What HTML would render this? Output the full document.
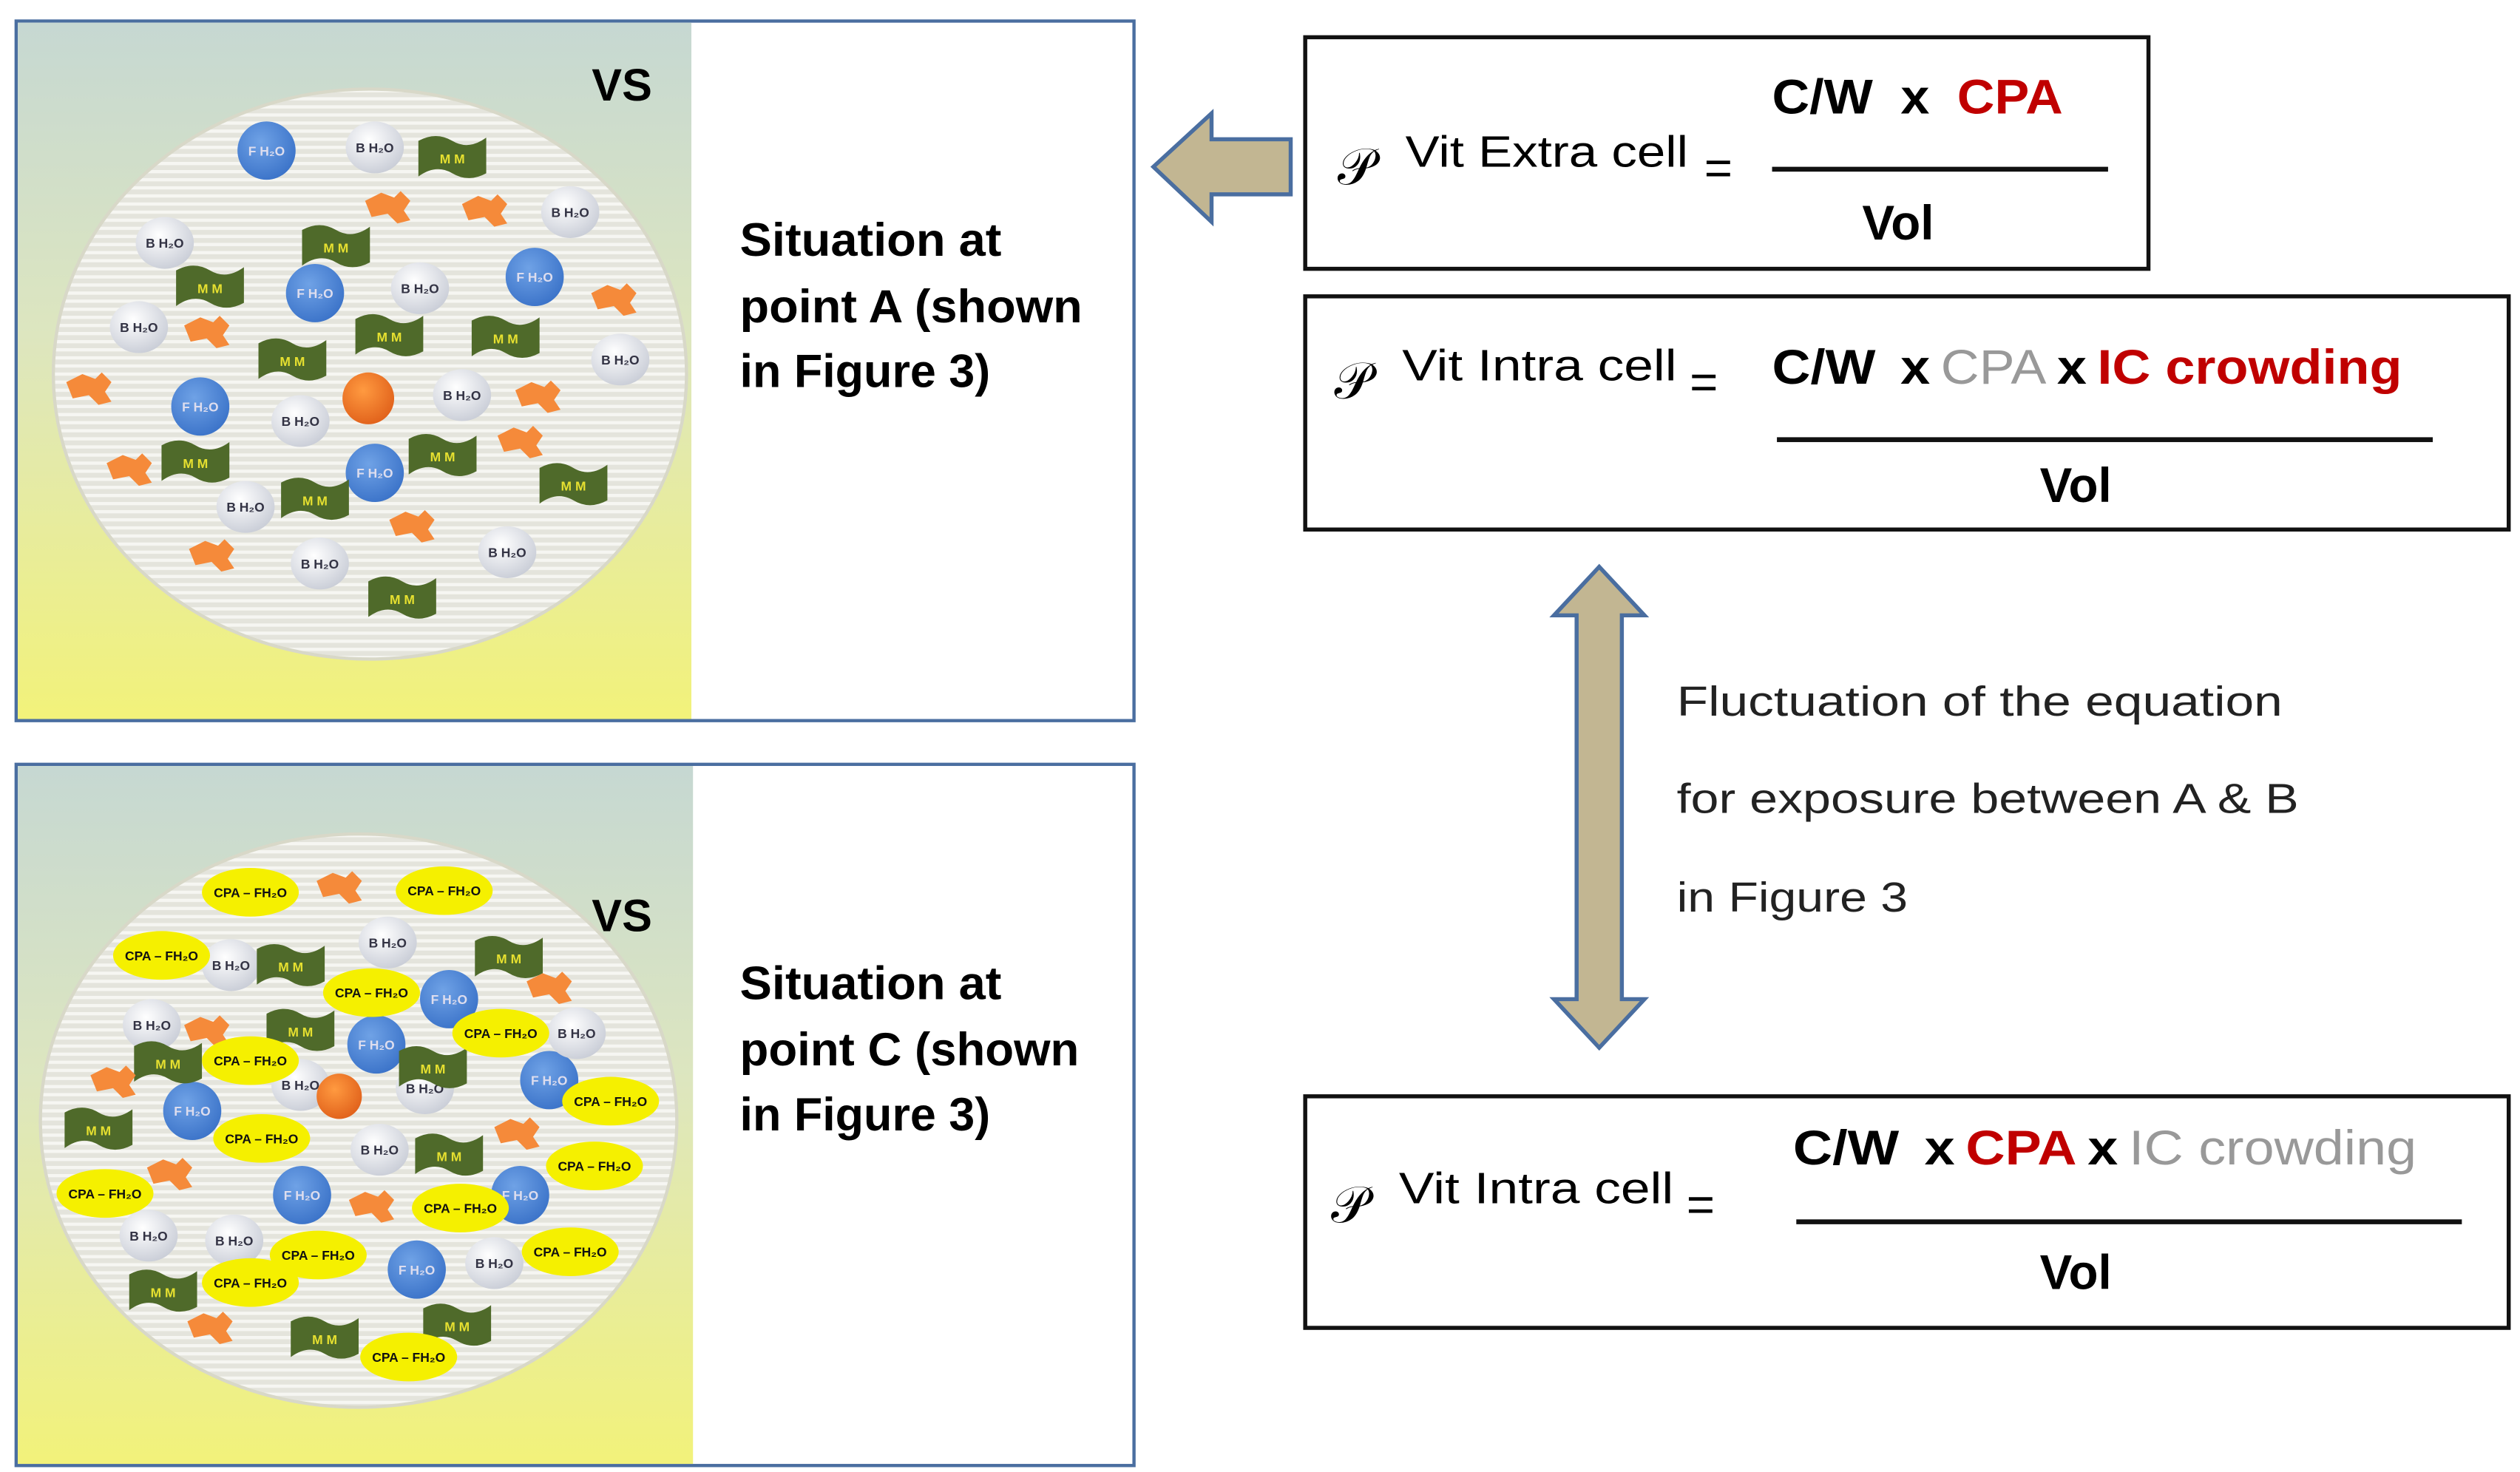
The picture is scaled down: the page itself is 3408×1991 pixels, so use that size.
<!DOCTYPE html>
<html><head><meta charset="utf-8"><style>
html,body{margin:0;padding:0;background:#fff}
svg{display:block}
text{font-family:"Liberation Sans",sans-serif}
.b{font-weight:bold}
</style></head><body>
<svg width="3408" height="1991" viewBox="0 0 1560 909" preserveAspectRatio="none" xmlns="http://www.w3.org/2000/svg">
<defs>
<linearGradient id="bg" x1="0" y1="0" x2="0" y2="1">
<stop offset="0" stop-color="#c6d8d2"/><stop offset="0.45" stop-color="#dde6bf"/><stop offset="1" stop-color="#f2f27a"/>
</linearGradient>
<pattern id="st" width="6" height="5" patternUnits="userSpaceOnUse">
<rect width="6" height="5" fill="#e4e4dc"/><rect width="6" height="2" fill="#f6f6f2"/>
</pattern>
<radialGradient id="bl" cx="0.4" cy="0.35" r="0.7"><stop offset="0" stop-color="#6fa2e6"/><stop offset="1" stop-color="#3a72c8"/></radialGradient>
<radialGradient id="wh" cx="0.4" cy="0.35" r="0.7"><stop offset="0" stop-color="#ffffff"/><stop offset="1" stop-color="#c8ccd6"/></radialGradient>
<radialGradient id="or" cx="0.4" cy="0.35" r="0.7"><stop offset="0" stop-color="#ff9a40"/><stop offset="1" stop-color="#e0601a"/></radialGradient>
<g id="F"><circle r="18" fill="url(#bl)"/></g>
<g id="W"><ellipse rx="18" ry="16" fill="url(#wh)"/></g>
<g id="M"><path d="M-21,-10 Q-10,-16 0,-10 Q10,-4 21,-12 L21,10 Q10,16 0,10 Q-10,4 -21,12 Z" fill="#4f6a2a"/></g>
<g id="O"><path d="M-14,-4 L-4,-9 L4,-6 L8,-10 L14,-4 L10,2 L14,8 L6,10 L0,4 L-10,6 Z" fill="#f58a3a"/></g>
<g id="Y"><ellipse rx="30" ry="15" fill="#f5f000"/></g>
</defs>

<!-- Box A -->
<rect x="10" y="13" width="692" height="432" fill="#fff" stroke="#4a6ea0" stroke-width="2"/>
<rect x="11" y="14" width="417" height="430" fill="url(#bg)"/>
<ellipse cx="229" cy="231" rx="196" ry="176" fill="url(#st)" stroke="#d8d8c8" stroke-width="2"/>
<text x="385" y="62" class="b" font-size="28" text-anchor="middle">VS</text>
<g font-size="8" font-weight="bold" text-anchor="middle">
<use href="#F" x="165" y="93"/><text x="165" y="96" fill="#dde">F H₂O</text>
<use href="#F" x="195" y="181"/><text x="195" y="184" fill="#dde">F H₂O</text>
<use href="#F" x="331" y="171"/><text x="331" y="174" fill="#dde">F H₂O</text>
<use href="#F" x="124" y="251"/><text x="124" y="254" fill="#dde">F H₂O</text>
<use href="#F" x="232" y="292"/><text x="232" y="295" fill="#dde">F H₂O</text>
<use href="#W" x="232" y="91"/><text x="232" y="94" fill="#334">B H₂O</text>
<use href="#W" x="353" y="131"/><text x="353" y="134" fill="#334">B H₂O</text>
<use href="#W" x="102" y="150"/><text x="102" y="153" fill="#334">B H₂O</text>
<use href="#W" x="260" y="178"/><text x="260" y="181" fill="#334">B H₂O</text>
<use href="#W" x="86" y="202"/><text x="86" y="205" fill="#334">B H₂O</text>
<use href="#W" x="384" y="222"/><text x="384" y="225" fill="#334">B H₂O</text>
<use href="#W" x="186" y="260"/><text x="186" y="263" fill="#334">B H₂O</text>
<use href="#W" x="286" y="244"/><text x="286" y="247" fill="#334">B H₂O</text>
<use href="#W" x="152" y="313"/><text x="152" y="316" fill="#334">B H₂O</text>
<use href="#W" x="198" y="348"/><text x="198" y="351" fill="#334">B H₂O</text>
<use href="#W" x="314" y="341"/><text x="314" y="344" fill="#334">B H₂O</text>
<use href="#M" x="280" y="97"/><text x="280" y="101" fill="#e6e030">M M</text>
<use href="#M" x="208" y="152"/><text x="208" y="156" fill="#e6e030">M M</text>
<use href="#M" x="130" y="177"/><text x="130" y="181" fill="#e6e030">M M</text>
<use href="#M" x="241" y="207"/><text x="241" y="211" fill="#e6e030">M M</text>
<use href="#M" x="313" y="208"/><text x="313" y="212" fill="#e6e030">M M</text>
<use href="#M" x="181" y="222"/><text x="181" y="226" fill="#e6e030">M M</text>
<use href="#M" x="274" y="281"/><text x="274" y="285" fill="#e6e030">M M</text>
<use href="#M" x="121" y="285"/><text x="121" y="289" fill="#e6e030">M M</text>
<use href="#M" x="195" y="308"/><text x="195" y="312" fill="#e6e030">M M</text>
<use href="#M" x="355" y="299"/><text x="355" y="303" fill="#e6e030">M M</text>
<use href="#M" x="249" y="369"/><text x="249" y="373" fill="#e6e030">M M</text>
</g>
<use href="#O" x="240" y="128"/><use href="#O" x="300" y="130"/><use href="#O" x="380" y="185"/>
<use href="#O" x="128" y="205"/><use href="#O" x="55" y="240"/><use href="#O" x="333" y="245"/>
<use href="#O" x="80" y="290"/><use href="#O" x="322" y="273"/><use href="#O" x="255" y="325"/><use href="#O" x="131" y="343"/>
<circle cx="228" cy="246" r="16" fill="url(#or)"/>
<g class="b" font-size="29">
<text x="458" y="158" textLength="162" lengthAdjust="spacingAndGlyphs">Situation at</text>
<text x="458" y="199" textLength="212" lengthAdjust="spacingAndGlyphs">point A (shown</text>
<text x="458" y="239" textLength="155" lengthAdjust="spacingAndGlyphs">in Figure 3)</text>
</g>

<!-- Box C -->
<rect x="10" y="472" width="692" height="433" fill="#fff" stroke="#4a6ea0" stroke-width="2"/>
<rect x="11" y="473" width="418" height="431" fill="url(#bg)"/>
<ellipse cx="222" cy="692" rx="197" ry="177" fill="url(#st)" stroke="#d8d8c8" stroke-width="2"/>
<text x="385" y="575" class="b" font-size="28" text-anchor="middle">VS</text>
<g font-size="8" font-weight="bold" text-anchor="middle">
<use href="#F" x="278" y="617"/><text x="278" y="620" fill="#dde">F H₂O</text>
<use href="#F" x="233" y="645"/><text x="233" y="648" fill="#dde">F H₂O</text>
<use href="#F" x="119" y="686"/><text x="119" y="689" fill="#dde">F H₂O</text>
<use href="#F" x="187" y="738"/><text x="187" y="741" fill="#dde">F H₂O</text>
<use href="#F" x="322" y="738"/><text x="322" y="741" fill="#dde">F H₂O</text>
<use href="#F" x="340" y="667"/><text x="340" y="670" fill="#dde">F H₂O</text>
<use href="#F" x="258" y="784"/><text x="258" y="787" fill="#dde">F H₂O</text>
<use href="#W" x="240" y="582"/><text x="240" y="585" fill="#334">B H₂O</text>
<use href="#W" x="143" y="596"/><text x="143" y="599" fill="#334">B H₂O</text>
<use href="#W" x="94" y="633"/><text x="94" y="636" fill="#334">B H₂O</text>
<use href="#W" x="357" y="638"/><text x="357" y="641" fill="#334">B H₂O</text>
<use href="#W" x="186" y="670"/><text x="186" y="673" fill="#334">B H₂O</text>
<use href="#W" x="263" y="672"/><text x="263" y="675" fill="#334">B H₂O</text>
<use href="#W" x="235" y="710"/><text x="235" y="713" fill="#334">B H₂O</text>
<use href="#W" x="92" y="763"/><text x="92" y="766" fill="#334">B H₂O</text>
<use href="#W" x="145" y="766"/><text x="145" y="769" fill="#334">B H₂O</text>
<use href="#W" x="306" y="780"/><text x="306" y="783" fill="#334">B H₂O</text>
<use href="#M" x="180" y="596"/><text x="180" y="600" fill="#e6e030">M M</text>
<use href="#M" x="315" y="591"/><text x="315" y="595" fill="#e6e030">M M</text>
<use href="#M" x="186" y="636"/><text x="186" y="640" fill="#e6e030">M M</text>
<use href="#M" x="104" y="656"/><text x="104" y="660" fill="#e6e030">M M</text>
<use href="#M" x="268" y="659"/><text x="268" y="663" fill="#e6e030">M M</text>
<use href="#M" x="61" y="697"/><text x="61" y="701" fill="#e6e030">M M</text>
<use href="#M" x="278" y="713"/><text x="278" y="717" fill="#e6e030">M M</text>
<use href="#M" x="101" y="797"/><text x="101" y="801" fill="#e6e030">M M</text>
<use href="#M" x="201" y="826"/><text x="201" y="830" fill="#e6e030">M M</text>
<use href="#M" x="283" y="818"/><text x="283" y="822" fill="#e6e030">M M</text>
</g>
<use href="#O" x="210" y="548"/><use href="#O" x="340" y="610"/><use href="#O" x="70" y="668"/>
<use href="#O" x="128" y="637"/><use href="#O" x="320" y="700"/><use href="#O" x="230" y="745"/>
<use href="#O" x="105" y="725"/><use href="#O" x="130" y="820"/>
<circle cx="210" cy="677" r="14" fill="url(#or)"/>
<g font-size="8" font-weight="bold" text-anchor="middle" fill="#111">
<use href="#Y" x="155" y="551"/><text x="155" y="554">CPA – FH₂O</text>
<use href="#Y" x="275" y="550"/><text x="275" y="553">CPA – FH₂O</text>
<use href="#Y" x="100" y="590"/><text x="100" y="593">CPA – FH₂O</text>
<use href="#Y" x="230" y="613"/><text x="230" y="616">CPA – FH₂O</text>
<use href="#Y" x="310" y="638"/><text x="310" y="641">CPA – FH₂O</text>
<use href="#Y" x="155" y="655"/><text x="155" y="658">CPA – FH₂O</text>
<use href="#Y" x="378" y="680"/><text x="378" y="683">CPA – FH₂O</text>
<use href="#Y" x="162" y="703"/><text x="162" y="706">CPA – FH₂O</text>
<use href="#Y" x="368" y="720"/><text x="368" y="723">CPA – FH₂O</text>
<use href="#Y" x="65" y="737"/><text x="65" y="740">CPA – FH₂O</text>
<use href="#Y" x="285" y="746"/><text x="285" y="749">CPA – FH₂O</text>
<use href="#Y" x="197" y="775"/><text x="197" y="778">CPA – FH₂O</text>
<use href="#Y" x="353" y="773"/><text x="353" y="776">CPA – FH₂O</text>
<use href="#Y" x="155" y="792"/><text x="155" y="795">CPA – FH₂O</text>
<use href="#Y" x="253" y="838"/><text x="253" y="841">CPA – FH₂O</text>
</g>
<g class="b" font-size="29">
<text x="458" y="617" textLength="162" lengthAdjust="spacingAndGlyphs">Situation at</text>
<text x="458" y="658" textLength="210" lengthAdjust="spacingAndGlyphs">point C (shown</text>
<text x="458" y="698" textLength="155" lengthAdjust="spacingAndGlyphs">in Figure 3)</text>
</g>

<!-- Left arrow -->
<path d="M714,103 L750,70 L750,86 L799,86 L799,120 L750,120 L750,137 Z" fill="#c2b692" stroke="#4a6ea0" stroke-width="2.5"/>

<!-- Double arrow -->
<path d="M990,350 L1018,380 L1004,380 L1004,617 L1018,617 L990,647 L962,617 L976,617 L976,380 L962,380 Z" fill="#c2b692" stroke="#4a6ea0" stroke-width="2.5"/>

<!-- Equation boxes -->
<rect x="808" y="23" width="522" height="143" fill="#fff" stroke="#111" stroke-width="2.5"/>
<rect x="808" y="183" width="745" height="144" fill="#fff" stroke="#111" stroke-width="2.5"/>
<rect x="808" y="677" width="745" height="143" fill="#fff" stroke="#111" stroke-width="2.5"/>

<g font-size="32">
<text x="828" y="114" style="font-family:'Liberation Serif',serif">𝒫</text>
<text x="826" y="246" style="font-family:'Liberation Serif',serif">𝒫</text>
<text x="824" y="755" style="font-family:'Liberation Serif',serif">𝒫</text>
</g>
<g font-size="27">
<text x="870" y="103" textLength="175" lengthAdjust="spacingAndGlyphs">Vit Extra cell</text>
<text x="1055" y="114" font-size="30">=</text>
<text x="868" y="235" textLength="170" lengthAdjust="spacingAndGlyphs">Vit Intra cell</text>
<text x="1046" y="246" font-size="30">=</text>
<text x="866" y="743" textLength="170" lengthAdjust="spacingAndGlyphs">Vit Intra cell</text>
<text x="1044" y="754" font-size="30">=</text>
</g>

<g font-size="30">
<text x="1097" y="70" class="b" textLength="180" lengthAdjust="spacingAndGlyphs">C/W<tspan dx="16">x</tspan><tspan dx="16" fill="#c00000">CPA</tspan></text>
<rect x="1097" y="103" width="208" height="3" fill="#111"/>
<text x="1175" y="148" class="b" text-anchor="middle">Vol</text>

<text x="1097" y="237" textLength="390" lengthAdjust="spacingAndGlyphs"><tspan class="b">C/W</tspan><tspan dx="14" class="b">x</tspan><tspan dx="6" fill="#999">CPA</tspan><tspan dx="6" class="b">x</tspan><tspan dx="6" class="b" fill="#c00000">IC crowding</tspan></text>
<rect x="1100" y="270" width="406" height="3" fill="#111"/>
<text x="1285" y="310" class="b" text-anchor="middle">Vol</text>

<text x="1110" y="719" textLength="386" lengthAdjust="spacingAndGlyphs"><tspan class="b">C/W</tspan><tspan dx="14" class="b">x</tspan><tspan dx="6" class="b" fill="#c00000">CPA</tspan><tspan dx="6" class="b">x</tspan><tspan dx="6" fill="#999">IC crowding</tspan></text>
<rect x="1112" y="753" width="412" height="3" fill="#111"/>
<text x="1285" y="796" class="b" text-anchor="middle">Vol</text>
</g>

<g font-size="26" fill="#222">
<text x="1038" y="442" textLength="375" lengthAdjust="spacingAndGlyphs">Fluctuation of the equation</text>
<text x="1038" y="502" textLength="385" lengthAdjust="spacingAndGlyphs">for exposure between A &amp; B</text>
<text x="1038" y="563" textLength="143" lengthAdjust="spacingAndGlyphs">in Figure 3</text>
</g>
</svg>
</body></html>
